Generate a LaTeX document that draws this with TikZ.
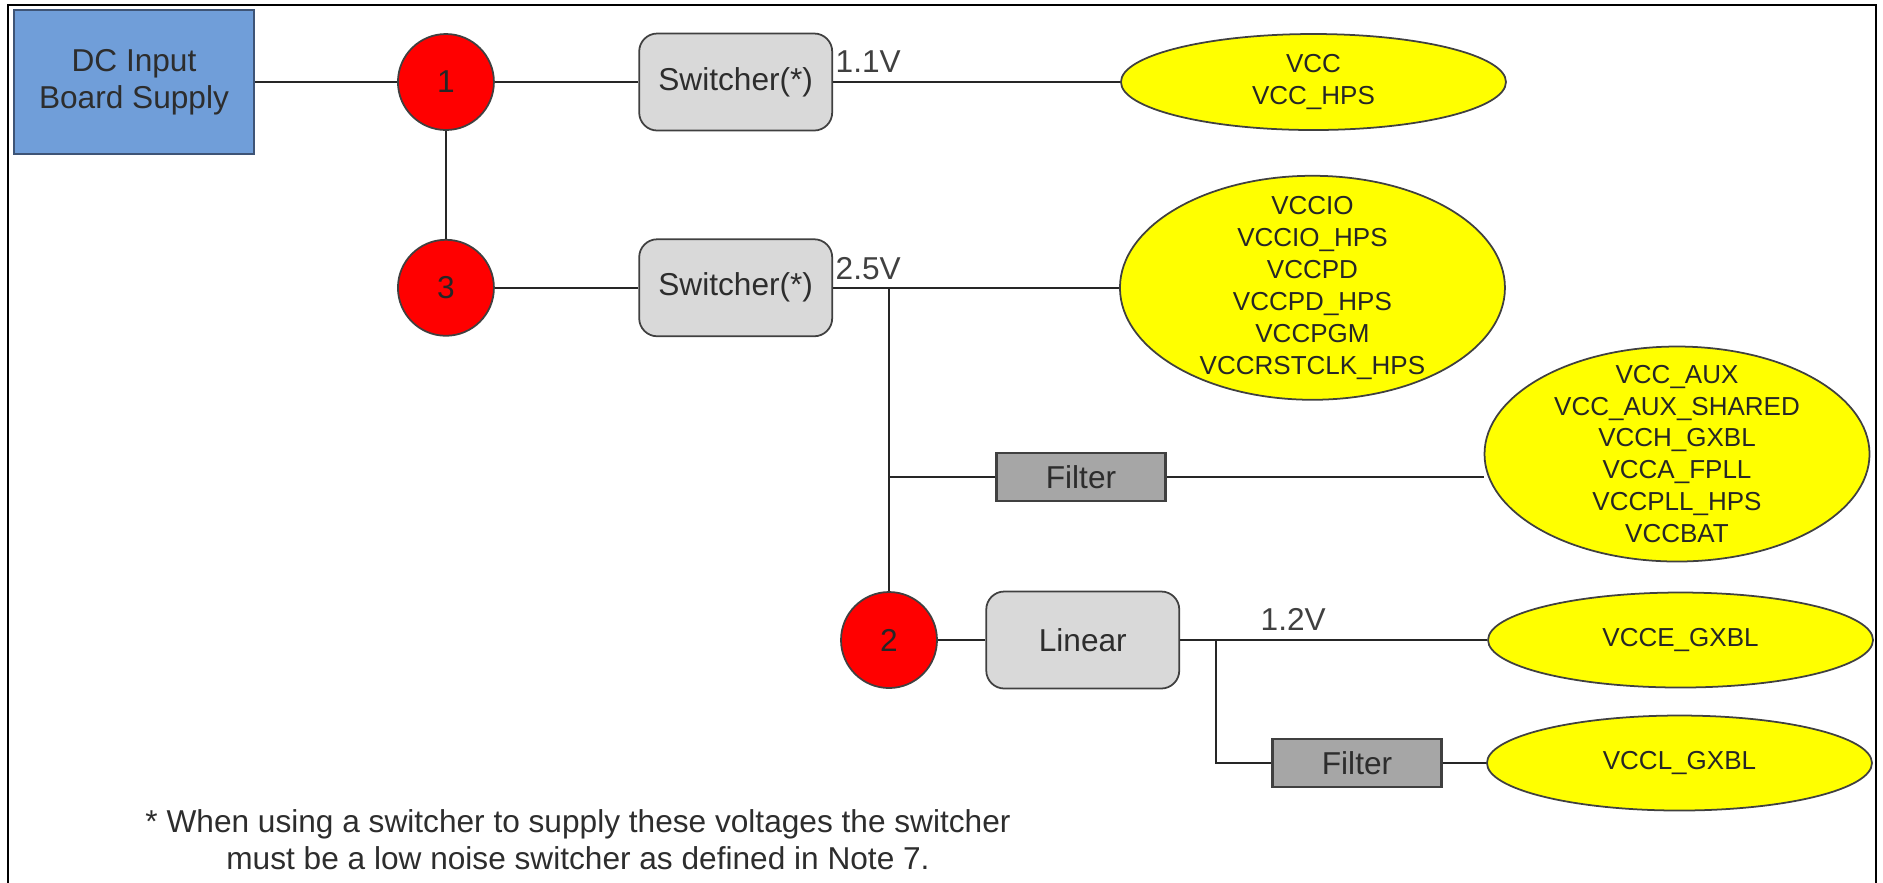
\documentclass[tikz,border=0pt]{standalone}
\usepackage{fontspec}
\setmainfont{Liberation Sans}
\usetikzlibrary{positioning, shapes.geometric, calc}
\pgfdeclarelayer{background}
\pgfsetlayers{background,main}
\definecolor{wireGray}{RGB}{38,38,38}
\definecolor{textGray}{RGB}{45,45,45}
\definecolor{srcBlue}{RGB}{112,158,217}
\definecolor{srcEdge}{RGB}{62,84,118}
\definecolor{hubRed}{RGB}{255,0,0}
\definecolor{regGray}{RGB}{217,217,217}
\definecolor{filtGray}{RGB}{166,166,166}
\definecolor{railYellow}{RGB}{255,255,0}
\definecolor{edgeGray}{RGB}{64,64,64}

\begin{document}
\begin{tikzpicture}[
    every node/.style={font=\fontsize{9}{9.6}\selectfont, text=textGray},
    src/.style={
        draw=srcEdge, fill=srcBlue, line width=0.6pt, align=center,
        font=\fontsize{9}{10.6}\selectfont,
        minimum width=2.4cm, minimum height=1.44cm, inner sep=0pt
    },
    hub/.style={
        circle, draw=edgeGray, fill=hubRed, line width=0.5pt,
        minimum size=0.96cm, inner sep=0pt, text=black!85
    },
    reg/.style={
        draw=edgeGray, fill=regGray, rounded corners=0.18cm, line width=0.5pt,
        minimum width=1.93cm, minimum height=0.97cm, inner sep=0pt
    },
    filt/.style={
        draw=edgeGray, fill=filtGray, line width=0.6pt,
        minimum width=1.69cm, minimum height=0.48cm, inner sep=0pt
    },
    rail/.style={
        ellipse, draw=edgeGray, fill=railYellow, line width=0.5pt,
        minimum width=3.85cm, minimum height=0.96cm, inner sep=0pt
    },
    railtext/.style={font=\fontsize{7.4}{9.1}\selectfont, text=black!85, align=center, inner sep=0pt},
    volt/.style={anchor=base west, inner sep=0pt, text=edgeGray},
    wire/.style={draw=wireGray, line width=0.6pt},
    panel/.style={draw=black, line width=0.8pt}
]
    \useasboundingbox (0,0) rectangle (18.83,-8.82);
    \draw[panel] (0.08,-8.9) -- (0.08,-0.05) -- (18.76,-0.05) -- (18.76,-8.9);

    \node[src] (dc) at (1.34,-0.82) {DC Input\\Board Supply};
    \node[hub, right=1.42cm of dc] (n1) {1};
    \node[reg, right=1.435cm of n1] (sw1) {Switcher(*)};
    \node[rail, right=2.87cm of sw1] (e1) {};

    \node[hub, below=1.08cm of n1] (n3) {3};
    \node[reg, right=1.435cm of n3] (sw2) {Switcher(*)};
    \node[rail, minimum height=2.24cm, right=2.86cm of sw2] (e2) {};

    \node[filt] (f1) at (10.81,-4.77) {Filter};
    \node[rail, minimum height=2.15cm] (e3) at (16.77,-4.54) {};

    \node[hub] (n2) at (8.89,-6.40) {2};
    \node[reg, right=0.475cm of n2] (lin) {Linear};
    \node[rail, minimum height=0.95cm, right=3.07cm of lin] (e4) {};

    \node[filt] (f2) at (13.57,-7.63) {Filter};
    \node[rail, minimum height=0.95cm, right=0.435cm of f2] (e5) {};

    % rail names
    \node[railtext] at (e1) {VCC\\VCC\_HPS};
    \node[railtext] at (e2) {VCCIO\\VCCIO\_HPS\\VCCPD\\VCCPD\_HPS\\VCCPGM\\VCCRSTCLK\_HPS};
    \node[railtext] at (e3) {VCC\_AUX\\VCC\_AUX\_SHARED\\VCCH\_GXBL\\VCCA\_FPLL\\VCCPLL\_HPS\\VCCBAT};
    \node[railtext] at (e4) {VCCE\_GXBL};
    \node[railtext] at (e5) {VCCL\_GXBL};

    \node[volt] (v11) at (8.35,-0.72) {1.1V};
    \node[volt] (v25) at (8.35,-2.79) {2.5V};
    \node[volt] (v12) at (12.60,-6.30) {1.2V};

    \node[align=center, font=\fontsize{9}{10.6}\selectfont] (note) at (5.78,-8.40)
        {* When using a switcher to supply these voltages the switcher\\must be a low noise switcher as defined in Note 7.};

    \coordinate (j25) at (n2 |- sw2);
    \coordinate (j12) at ([xshift=0.355cm]lin.east);

    \begin{pgfonlayer}{background}
        \draw[wire] (dc) -- (n1);
        \draw[wire] (n1) -- (sw1);
        \draw[wire] (sw1) -- (e1);
        \draw[wire] (n1) -- (n3);
        \draw[wire] (n3) -- (sw2);
        \draw[wire] (sw2) -- (e2);
        \draw[wire] (j25) -- (n2);
        \draw[wire] (j25 |- f1) -- (f1);
        \draw[wire] (f1) -- (f1 -| e3.west);
        \draw[wire] (n2) -- (lin);
        \draw[wire] (lin) -- (e4);
        \draw[wire] (j12) |- (f2);
        \draw[wire] (f2) -- (e5);
    \end{pgfonlayer}
\end{tikzpicture}
\end{document}
